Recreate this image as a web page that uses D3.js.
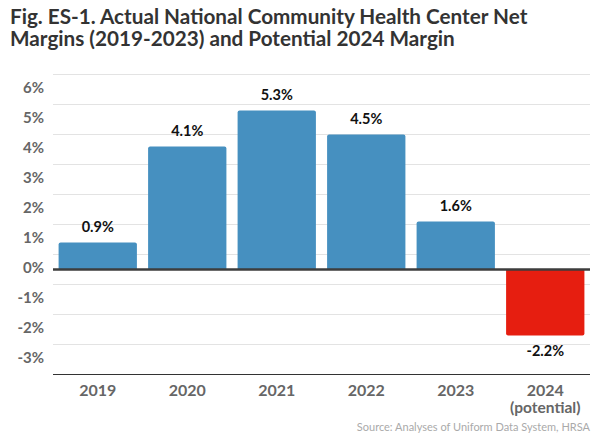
<!DOCTYPE html>
<html>
<head>
    <script src="https://d3js.org/d3.v7.min.js"></script>
    <style>
        body { margin: 0; background: #fff; }
        svg { display: block; font-family: Lato, sans-serif; }
    </style>
</head>
<body>
    <svg width="600" height="436"></svg>
    <script>
        // Net margins by year
        const years = ["2019", "2020", "2021", "2022", "2023", "2024"];
        const yearNotes = ["", "", "", "", "", "(potential)"];
        const margins = [0.9, 4.1, 5.3, 4.5, 1.6, -2.2];
        const yTicks = [6, 5, 4, 3, 2, 1, 0, -1, -2, -3];

        const svg = d3.select("svg");
        const left = 53, right = 590;

        // Title
        const title = svg.append("text")
            .attr("x", 10)
            .attr("fill", "#333")
            .attr("font-size", 20.7)
            .attr("font-weight", "bold");
        title.append("tspan").attr("x", 10).attr("y", 24)
            .text("Fig. ES-1. Actual National Community Health Center Net");
        title.append("tspan").attr("x", 10).attr("y", 46)
            .text("Margins (2019-2023) and Potential 2024 Margin");

        const x = d3.scaleBand()
            .domain(years)
            .range([left, right])
            .paddingInner(0.125)
            .paddingOuter(0.0625);

        const y = d3.scaleLinear()
            .domain([-3.5, 6.5])
            .range([374.5, 74.5]);

        // Gridlines at half steps
        const grid = d3.range(-2.5, 7, 1);
        svg.append("g").selectAll("line")
            .data(grid)
            .join("line")
            .attr("x1", left).attr("x2", right)
            .attr("y1", d => y(d)).attr("y2", d => y(d))
            .attr("stroke", "#e3e3e3")
            .attr("stroke-width", 1.2);

        // Y axis labels
        const yAxis = d3.axisLeft(y)
            .tickValues(yTicks)
            .tickFormat(d => d + "%")
            .tickSize(0)
            .tickPadding(9);
        const yg = svg.append("g")
            .attr("transform", `translate(${left},0)`)
            .call(yAxis);
        yg.select(".domain").remove();
        yg.selectAll("text")
            .attr("font-family", "Lato, sans-serif")
            .attr("font-size", 15)
            .attr("font-weight", "bold")
            .attr("fill", "#666")
            .attr("dy", "0.2em");

        // Bars with rounded outer corners
        function barPath(d, i) {
            const x0 = x(years[i]), w = x.bandwidth();
            const y0 = y(0), y1 = y(d), r = 2;
            if (d >= 0) {
                return `M${x0},${y0}V${y1 + r}Q${x0},${y1} ${x0 + r},${y1}H${x0 + w - r}Q${x0 + w},${y1} ${x0 + w},${y1 + r}V${y0}Z`;
            }
            return `M${x0},${y0}V${y1 - r}Q${x0},${y1} ${x0 + r},${y1}H${x0 + w - r}Q${x0 + w},${y1} ${x0 + w},${y1 - r}V${y0}Z`;
        }
        svg.append("g").selectAll("path")
            .data(margins)
            .join("path")
            .attr("d", barPath)
            .attr("fill", d => d < 0 ? "#e61e10" : "#4690c0");

        // Value labels
        svg.append("g").selectAll("text")
            .data(margins)
            .join("text")
            .attr("x", (d, i) => x(years[i]) + x.bandwidth() / 2)
            .attr("y", d => d >= 0 ? y(d) - 11 : y(d) + 20)
            .attr("text-anchor", "middle")
            .attr("font-size", 14.5)
            .attr("font-weight", "bold")
            .attr("fill", "#111")
            .text(d => d.toFixed(1) + "%");

        // Zero line and bottom axis line
        svg.append("line")
            .attr("x1", left).attr("x2", right)
            .attr("y1", y(0)).attr("y2", y(0))
            .attr("stroke", "#3d3d3d")
            .attr("stroke-width", 2.5);
        svg.append("line")
            .attr("x1", left).attr("x2", right)
            .attr("y1", y(-3.5)).attr("y2", y(-3.5))
            .attr("stroke", "#333")
            .attr("stroke-width", 1.2);

        // Category labels
        svg.append("g").selectAll("text")
            .data(years)
            .join("text")
            .attr("x", d => x(d) + x.bandwidth() / 2)
            .attr("y", 396)
            .attr("text-anchor", "middle")
            .attr("font-size", 16)
            .attr("font-weight", "bold")
            .attr("fill", "#666")
            .text(d => d);
        svg.append("g").selectAll("text")
            .data(yearNotes)
            .join("text")
            .attr("x", (d, i) => x(years[i]) + x.bandwidth() / 2)
            .attr("y", 413)
            .attr("text-anchor", "middle")
            .attr("font-size", 15.5)
            .attr("font-weight", "bold")
            .attr("fill", "#666")
            .text(d => d);

        // Source note
        svg.append("text")
            .attr("x", right)
            .attr("y", 431)
            .attr("text-anchor", "end")
            .attr("font-size", 11)
            .attr("fill", "#aaa")
            .text("Source: Analyses of Uniform Data System, HRSA");
    </script>
</body>
</html>
